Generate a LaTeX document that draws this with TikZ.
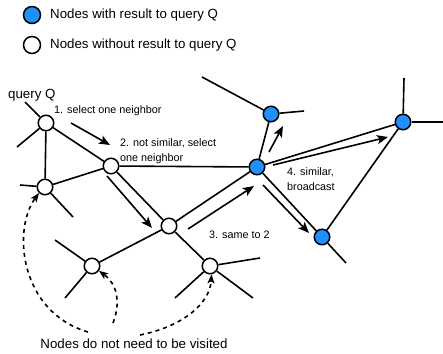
\documentclass[tikz,border=0pt]{standalone}
\usepackage{fontspec}
\setmainfont{Liberation Sans}
\usetikzlibrary{arrows.meta}
\definecolor{hitblue}{RGB}{30,144,255}
\begin{document}
\begin{tikzpicture}[x=1pt,y=-1pt,
  peer/.style={circle,draw=black,line width=1.5pt,fill=white,minimum size=15.5pt,inner sep=0pt},
  hit/.style={peer,fill=hitblue},
  keypeer/.style={peer,minimum size=17pt},
  edge/.style={line width=1.6pt},
  walk/.style={line width=1.6pt,-{Stealth[length=11pt,width=9pt,inset=2.5pt]}},
  skip/.style={line width=1.6pt,dash pattern=on 4pt off 4pt,-{Stealth[length=9pt,width=7pt,inset=2pt]}},
  big/.style={font=\fontsize{13.3}{16}\selectfont,inner sep=0pt},
  small/.style={font=\fontsize{10.8}{15.5}\selectfont,inner sep=0pt,align=left}]
\useasboundingbox (0,0) rectangle (443,353);

% legend
\node[keypeer,fill=hitblue] (lg1) at (32,15) {};
\node[keypeer] (lg2) at (32,45) {};
\node[big,anchor=west] (lt1) at (50,15) {Nodes with result to query Q};
\node[big,anchor=west] (lt2) at (50,45) {Nodes without result to query Q};

% free ends of edges
\coordinate (qa)  at (25,102);
\coordinate (al)  at (17,147);
\coordinate (cl)  at (20,185);
\coordinate (cd)  at (73,217);
\coordinate (jl)  at (55,240);
\coordinate (jd)  at (65,298);
\coordinate (ir)  at (260,258);
\coordinate (idr) at (253,298);
\coordinate (idl) at (175,298);
\coordinate (eu)  at (202,77);
\coordinate (er)  at (304,111);
\coordinate (fu)  at (404,78);
\coordinate (fr)  at (443,122);
\coordinate (gd)  at (346,263);

% peers
\node[peer] (A) at (46,123) {};
\node[peer] (B) at (111,166) {};
\node[peer] (C) at (45,187) {};
\node[peer] (H) at (169,226) {};
\node[peer] (I) at (210,266) {};
\node[peer] (J) at (92,266) {};
\node[hit]  (D) at (257,167) {};
\node[hit]  (E) at (271,114) {};
\node[hit]  (F) at (403,122) {};
\node[hit]  (G) at (322,237) {};

% links between peers and dangling links
\draw[edge] (A) -- (qa);
\draw[edge] (A) -- (al);
\draw[edge] (A) -- (C);
\draw[edge] (A) -- (B);
\draw[edge] (C) -- (cl);
\draw[edge] (C) -- (B);
\draw[edge] (C) -- (cd);
\draw[edge] (B) -- (D);
\draw[edge] (B) -- (H);
\draw[edge] (H) -- (J);
\draw[edge] (H) -- (I);
\draw[edge] (H) -- (D);
\draw[edge] (J) -- (jl);
\draw[edge] (J) -- (jd);
\draw[edge] (I) -- (ir);
\draw[edge] (I) -- (idr);
\draw[edge] (I) -- (idl);
\draw[edge] (D) -- (E);
\draw[edge] (E) -- (eu);
\draw[edge] (E) -- (er);
\draw[edge] (D) -- (F);
\draw[edge] (F) -- (fu);
\draw[edge] (F) -- (fr);
\draw[edge] (F) -- (G);
\draw[edge] (D) -- (G);
\draw[edge] (G) -- (gd);

% query walk
\coordinate (w1s) at (71,123);  \coordinate (w1e) at (110,145);
\coordinate (w2s) at (107,176); \coordinate (w2e) at (152,228);
\coordinate (w3s) at (188,229); \coordinate (w3e) at (254,186);
\coordinate (w4s) at (269,152); \coordinate (w4e) at (283,126);
\coordinate (w5s) at (273,165); \coordinate (w5e) at (388,137);
\coordinate (w6s) at (263,185); \coordinate (w6e) at (309,233);
\draw[walk] (w1s) -- (w1e);
\draw[walk] (w2s) -- (w2e);
\draw[walk] (w3s) -- (w3e);
\draw[walk] (w4s) -- (w4e);
\draw[walk] (w5s) -- (w5e);
\draw[walk] (w6s) -- (w6e);

% step labels
\node[big,anchor=west] (q) at (8,95) {query Q};
\node[small,anchor=west] (s1) at (54,111) {1. select one neighbor};
\node[small,anchor=west] (s2) at (120,151) {2. not similar, select\\one neighbor};
\node[small,anchor=west] (s3) at (209,235) {3. same to 2};
\node[small,anchor=west] (s4) at (287,179) {4. similar,\\broadcast};

% skipped peers
\node[big] (note) at (134,344) {Nodes do not need to be visited};
\coordinate (k1) at (88,332);
\coordinate (k2) at (113,323);
\coordinate (k3) at (140,335);
\draw[skip] (k1) .. controls (20,312) and (12,230) .. (C.225);
\draw[skip] (k2) .. controls (121,302) and (117,284) .. (J.-35);
\draw[skip] (k3) .. controls (185,326) and (210,302) .. (I.-80);
\end{tikzpicture}
\end{document}
